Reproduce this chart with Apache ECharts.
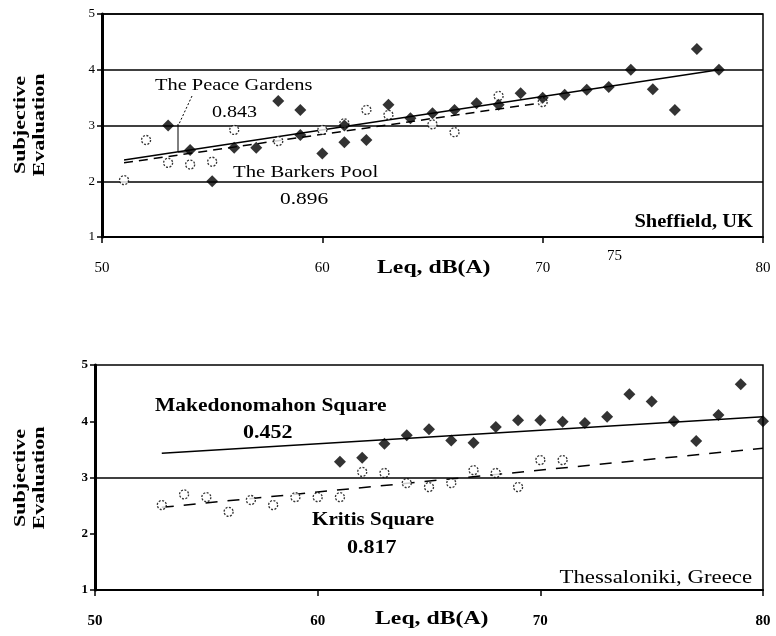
<!DOCTYPE html>
<html>
<head>
<meta charset="utf-8">
<script src="https://cdn.jsdelivr.net/npm/echarts@6/dist/echarts.min.js"></script>
<style>html,body{margin:0;padding:0;background:#fff}#c{width:776px;height:636px}</style>
</head>
<body>
<div id="c"></div>
<script>
// Sheffield, UK
const barkersPool = [[53,3.0],[54,2.56],[55,2.0],[56,2.6],[57,2.6],[58,3.44],[59,3.28],[59,2.83],[60,2.5],[61,2.7],[61,3.0],[62,2.74],[63,3.37],[64,3.13],[65,3.22],[66,3.28],[67,3.4],[68,3.37],[69,3.58],[70,3.5],[71,3.55],[72,3.64],[73,3.69],[74,4.0],[75,3.65],[76,3.28],[77,4.37],[78,4.0]];
const peaceGardens = [[51,2.02],[52,2.74],[53,2.33],[54,2.3],[55,2.35],[56,2.92],[58,2.72],[60,2.92],[61,3.04],[62,3.28],[63,3.19],[65,3.02],[66,2.88],[68,3.53],[70,3.42]];
const barkersTrend = [[51,2.38],[78,4.0]];
const peaceTrend = [[51,2.33],[70,3.41]];
// Thessaloniki, Greece
const makedonomahon = [[61,3.28],[62,3.35],[63,3.6],[64,3.75],[65,3.86],[66,3.66],[67,3.62],[68,3.9],[69,4.02],[70,4.02],[71,3.99],[72,3.97],[73,4.08],[74,4.48],[75,4.35],[76,4.0],[77,3.65],[78,4.11],[79,4.66],[80,4.0]];
const kritis = [[53,2.51],[54,2.7],[55,2.65],[56,2.39],[57,2.6],[58,2.51],[59,2.65],[60,2.65],[61,2.65],[62,3.1],[63,3.08],[64,2.9],[65,2.83],[66,2.9],[67,3.13],[68,3.08],[69,2.83],[70,3.31],[71,3.31]];
const makedTrend = [[53,3.43],[80,4.08]];
const kritisTrend = [[53,2.47],[80,3.52]];
const xTicks = [50,60,70,80];
const yTicks = [1,2,3,4,5];

const serif = '"Liberation Serif","DejaVu Serif",serif';
const chart = echarts.init(document.getElementById('c'), null, {renderer:'canvas'});

function xAx(gi, bold){
  return {gridIndex:gi, type:'value', min:xTicks[0], max:xTicks[xTicks.length-1], interval:10,
    axisLine:{show:true, onZero:false, lineStyle:{color:'#000', width:2}},
    axisTick:{show:true, length:6, lineStyle:{color:'#000', width:1.5}},
    axisLabel:{color:'#000', fontFamily:serif, fontSize:15, fontWeight:bold?'bold':'normal', margin:24},
    splitLine:{show:false}};
}
function yAx(gi, bold, split){
  return {gridIndex:gi, type:'value', min:yTicks[0], max:yTicks[yTicks.length-1], interval:1,
    axisLine:{show:true, onZero:false, lineStyle:{color:'#000', width:3}},
    axisTick:{show:true, length:5, lineStyle:{color:'#000', width:1.5}},
    axisLabel:{color:'#000', fontFamily:serif, fontSize:13, fontWeight:bold?'bold':'normal', margin:7},
    splitLine:{show:split, lineStyle:{color:'#000', width:1.5}}};
}
const diamond = {symbol:'diamond', symbolSize:12, itemStyle:{color:'#000'}};
const circle = {symbol:'circle', symbolSize:9, itemStyle:{color:'#fff', borderColor:'#000', borderWidth:1.3, borderType:[2,1.5]}};

function txt(x, y, text, size, bold, sx, align){
  return {type:'text', x:x, y:y, scaleX:sx, originX:0, originY:0, z:100,
    style:{text:text, font:(bold?'bold ':'')+size+'px '+serif, fill:'#000', align:align||'left', verticalAlign:'middle'}};
}

chart.setOption({
  animation:false,
  grid:[
    {left:102, right:13, top:14, height:223, show:true, borderColor:'#000', borderWidth:1.5},
    {left:95, right:13, top:365, height:225, show:true, borderColor:'#000', borderWidth:1.5}
  ],
  xAxis:[xAx(0,false), xAx(1,true)],
  yAxis:[yAx(0,false,true), yAx(1,true,false)],
  series:[
    {type:'line', xAxisIndex:0, yAxisIndex:0, data:peaceTrend, symbol:'none', lineStyle:{color:'#000', width:1.5, type:[9,6]}, z:3},
    {type:'line', xAxisIndex:0, yAxisIndex:0, data:barkersTrend, symbol:'none', lineStyle:{color:'#000', width:1.5}, z:3},
    Object.assign({type:'scatter', xAxisIndex:0, yAxisIndex:0, data:peaceGardens, z:4}, circle),
    Object.assign({type:'scatter', xAxisIndex:0, yAxisIndex:0, data:barkersPool, z:5}, diamond),
    {type:'line', xAxisIndex:1, yAxisIndex:1, data:kritisTrend, symbol:'none', lineStyle:{color:'#000', width:1.5, type:[12,10]}, z:3,
      markLine:{silent:true, symbol:'none', label:{show:false}, lineStyle:{color:'#000', width:1.5, type:'solid'}, data:[{yAxis:3}]}},
    {type:'line', xAxisIndex:1, yAxisIndex:1, data:makedTrend, symbol:'none', lineStyle:{color:'#000', width:1.5}, z:3},
    Object.assign({type:'scatter', xAxisIndex:1, yAxisIndex:1, data:kritis, z:4}, circle),
    Object.assign({type:'scatter', xAxisIndex:1, yAxisIndex:1, data:makedonomahon, z:5}, diamond)
  ],
  graphic:[
    txt(155, 86, 'The Peace Gardens', 17, false, 1.2),
    txt(212, 113, '0.843', 17, false, 1.18),
    txt(233, 173, 'The Barkers Pool', 17, false, 1.22),
    txt(280, 200, '0.896', 17, false, 1.26),
    {type:'polyline', shape:{points:[[192,96],[179,124]]}, style:{stroke:'#000', lineWidth:1, lineDash:[2,2]}},
    {type:'polyline', shape:{points:[[178,124],[178,152],[190,152]]}, style:{stroke:'#000', lineWidth:1}},
    txt(753, 222, 'Sheffield, UK', 18, true, 1.14, 'right'),
    txt(377, 268, 'Leq, dB(A)', 19, true, 1.25),
    txt(607, 256, '75', 15, false, 1),
    txt(155, 406, 'Makedonomahon Square', 19, true, 1.13),
    txt(243, 433, '0.452', 19, true, 1.16),
    txt(312, 520, 'Kritis Square', 19, true, 1.11),
    txt(347, 548, '0.817', 19, true, 1.16),
    txt(752, 578, 'Thessaloniki, Greece', 19, false, 1.2, 'right'),
    txt(375, 619, 'Leq, dB(A)', 19, true, 1.25),
    {type:'text', x:30, y:125, rotation:Math.PI/2, scaleX:1.3, z:100, style:{text:'Subjective\nEvaluation', font:'bold 17px '+serif, fill:'#000', align:'center', verticalAlign:'middle', lineHeight:19}},
    {type:'text', x:30, y:478, rotation:Math.PI/2, scaleX:1.3, z:100, style:{text:'Subjective\nEvaluation', font:'bold 17px '+serif, fill:'#000', align:'center', verticalAlign:'middle', lineHeight:19}}
  ]
});
</script>
</body>
</html>
